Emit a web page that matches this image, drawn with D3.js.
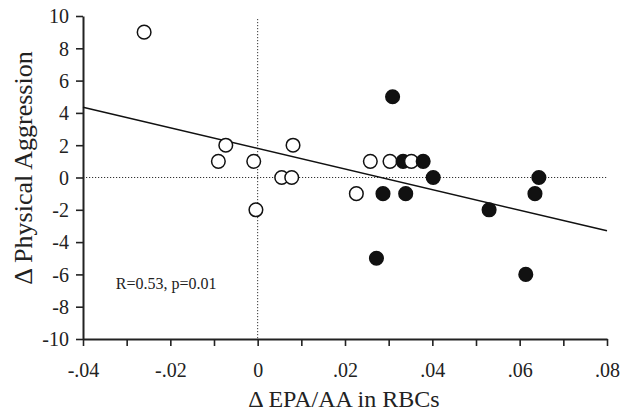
<!DOCTYPE html>
<html>
<head>
<meta charset="utf-8">
<script src="https://cdn.jsdelivr.net/npm/d3@7"></script>
<style>
  body { margin: 0; background: #fff; }
  svg text { font-family: "Liberation Serif", "Times New Roman", serif; fill: #222; }
</style>
</head>
<body>
<svg id="chart" width="633" height="416"></svg>
<script>
// open circles = placebo group, filled = treated group
const openX = [-0.026, -0.009, -0.0073, -0.0009, -0.0004, 0.0055, 0.0078, 0.0081, 0.0226, 0.0258, 0.0303, 0.0352];
const openY = [9, 1, 2, 1, -2, 0, 0, 2, -1, 1, 1, 1];
const filledX = [0.0309, 0.0333, 0.0379, 0.0402, 0.0287, 0.0339, 0.053, 0.0644, 0.0635, 0.0272, 0.0614];
const filledY = [5, 1, 1, 0, -1, -1, -2, 0, -1, -5, -6];
const fitX = [-0.04, 0.08];
const fitY = [4.35, -3.3];
const xTicks = [-0.04, -0.03, -0.02, -0.01, 0, 0.01, 0.02, 0.03, 0.04, 0.05, 0.06, 0.07, 0.08];
const xLabels = [-0.04, -0.02, 0, 0.02, 0.04, 0.06, 0.08];
const yTicks = [-10, -8, -6, -4, -2, 0, 2, 4, 6, 8, 10];

const margin = {left: 83, top: 16, right: 26, bottom: 77};
const totalW = 633, totalH = 416;
const W = totalW - margin.left - margin.right;
const H = totalH - margin.top - margin.bottom;
const serif = '"Liberation Serif", "Times New Roman", serif';

const svg = d3.select('#chart')
  .append('g')
  .attr('transform', `translate(${margin.left},${margin.top})`);

const x = d3.scaleLinear().domain([-0.04, 0.08]).range([0, W]);
const y = d3.scaleLinear().domain([-10, 10]).range([H, 0]);

// "-.04", "0", ".02" with a plain hyphen like the original
const fmtX = d => d === 0 ? '0' : d3.format('.2f')(d).replace('−', '-').replace('0.', '.');

// reference lines at zero
svg.append('line')
  .attr('x1', 0).attr('x2', W)
  .attr('y1', y(0)).attr('y2', y(0))
  .attr('stroke', '#333').attr('stroke-width', 1)
  .attr('stroke-dasharray', '1.2 1.8');
svg.append('line')
  .attr('x1', x(0)).attr('x2', x(0))
  .attr('y1', 3).attr('y2', H)
  .attr('stroke', '#333').attr('stroke-width', 1)
  .attr('stroke-dasharray', '1.2 1.8');

// X axis
const xaxis = svg.append('g')
  .attr('transform', `translate(0,${H})`)
  .call(d3.axisBottom(x).tickValues(xTicks).tickSize(7).tickSizeOuter(0).tickFormat(''));
xaxis.select('.domain').attr('stroke-width', 2).attr('stroke', '#222');
xaxis.selectAll('.tick line').attr('stroke-width', 1.6).attr('stroke', '#222');
xaxis.selectAll('.tick')
  .filter(d => xLabels.some(v => Math.abs(v - d) < 1e-9))
  .append('text')
  .attr('y', 38)
  .attr('text-anchor', 'middle')
  .attr('font-family', serif)
  .style('font-size', '20px')
  .text(fmtX);

// Y axis
const yaxis = svg.append('g')
  .call(d3.axisLeft(y).tickValues(yTicks).tickSize(7).tickSizeOuter(0).tickFormat(d => String(d)));
yaxis.attr('font-family', serif);
yaxis.select('.domain').attr('stroke-width', 2).attr('stroke', '#222');
yaxis.selectAll('.tick line').attr('stroke-width', 1.6).attr('stroke', '#222');
yaxis.selectAll('.tick text')
  .attr('x', -14)
  .attr('dy', '0.34em')
  .attr('font-family', serif)
  .style('font-size', '20px')
  .attr('fill', '#222');

// axis titles
svg.append('text')
  .attr('x', 344 - margin.left).attr('y', H + 68)
  .attr('text-anchor', 'middle')
  .style('font-size', '24px')
  .text('Δ EPA/AA in RBCs');
svg.append('text')
  .attr('transform', `translate(${32 - margin.left},${168 - margin.top}) rotate(-90)`)
  .attr('text-anchor', 'middle')
  .style('font-size', '26px')
  .text('Δ Physical Aggression');

// regression line
svg.append('path')
  .datum(fitX.map((v, i) => [v, fitY[i]]))
  .attr('fill', 'none')
  .attr('stroke', '#111')
  .attr('stroke-width', 1.5)
  .attr('d', d3.line().x(d => x(d[0])).y(d => y(d[1])));

// points, drawn left to right so overlaps stack like the original
const pts = openX.map((v, i) => ({x: v, y: openY[i], filled: false}))
  .concat(filledX.map((v, i) => ({x: v, y: filledY[i], filled: true})))
  .sort((a, b) => a.x - b.x);
svg.selectAll('.pt')
  .data(pts)
  .enter()
  .append('circle')
  .attr('class', 'pt')
  .attr('cx', d => x(d.x))
  .attr('cy', d => y(d.y))
  .attr('r', 6.8)
  .attr('fill', d => d.filled ? '#111' : '#fff')
  .attr('stroke', '#111')
  .attr('stroke-width', 1.5);

// annotation
svg.append('text')
  .attr('x', x(-0.0325)).attr('y', y(-6.9))
  .style('font-size', '16px')
  .text('R=0.53, p=0.01');
</script>
</body>
</html>
